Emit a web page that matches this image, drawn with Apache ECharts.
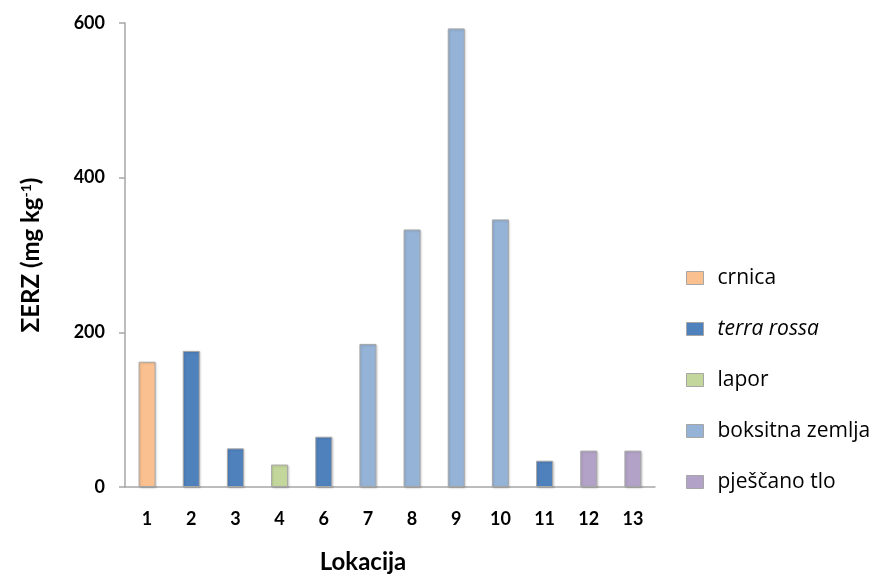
<!DOCTYPE html>
<html><head><meta charset="utf-8">
<script src="https://cdn.jsdelivr.net/npm/echarts@6/dist/echarts.min.js"></script>
<style>html,body{margin:0;padding:0;background:#fff}#c{width:880px;height:579px}</style>
</head><body><div id="c"></div>
<script>
const categories = ['1','2','3','4','6','7','8','9','10','11','12','13'];
const values = [162, 176, 50, 29, 65, 185, 333, 593, 346, 34, 47, 47];
const soilType = ['crnica','terra rossa','terra rossa','lapor','terra rossa','boksitna zemlja','boksitna zemlja','boksitna zemlja','boksitna zemlja','terra rossa','pješčano tlo','pješčano tlo'];
const seriesNames = ['crnica','terra rossa','lapor','boksitna zemlja','pješčano tlo'];
const seriesColors = ['#FAC090','#4F81BD','#C3D69B','#95B3D7','#B3A2C7'];
const yTicks = [0, 200, 400, 600];

const FONT = 'Lato, "Open Sans", sans-serif';
const LFONT = '"Open Sans", Lato, sans-serif';
const series = seriesNames.map((name, i) => ({
  name, type: 'bar', stack: 'all', barWidth: 17,
  data: values.map((v, j) => soilType[j] === name ? v : null),
  itemStyle: { color: seriesColors[i], borderColor: '#a6a6a6', borderWidth: 1,
    shadowColor: 'rgba(0,0,0,0.15)', shadowBlur: 2, shadowOffsetX: 1, shadowOffsetY: 1 }
}));

const chart = echarts.init(document.getElementById('c'));
chart.setOption({
  animation: false,
  backgroundColor: '#fff',
  grid: { left: 125, right: 225, top: 23, bottom: 91, containLabel: false },
  legend: {
    orient: 'vertical', left: 681, top: 262, itemGap: 29, itemWidth: 17, itemHeight: 13,
    icon: 'rect',
    data: seriesNames,
    itemStyle: { borderColor: '#a6a6a6', borderWidth: 1 },
    textStyle: { fontFamily: LFONT, fontSize: 21, lineHeight: 22, color: '#000', padding: [0,0,0,9],
      rich: { it: { fontStyle: 'italic', fontFamily: LFONT, fontSize: 21, lineHeight: 22, color: '#000' } } },
    formatter: n => n === 'terra rossa' ? '{it|' + n + '}' : n
  },
  xAxis: {
    type: 'category', data: categories,
    name: 'Lokacija', nameLocation: 'middle', nameGap: 63,
    nameTextStyle: { fontFamily: FONT, fontSize: 24, fontWeight: 'bold', color: '#000', padding: [0, 54, 0, 0] },
    axisLine: { lineStyle: { color: '#a6a6a6', width: 1.5 } },
    axisTick: { show: false },
    axisLabel: { margin: 23, fontFamily: FONT, fontSize: 18, fontWeight: 'bold', color: '#000' }
  },
  yAxis: {
    type: 'value', min: yTicks[0], max: yTicks[yTicks.length - 1], interval: 200,
    name: '{a|ΣERZ (mg kg}{s|-1}{a|)}', nameLocation: 'middle', nameGap: 82, nameRotate: 90,
    nameTextStyle: { rich: {
      a: { fontFamily: FONT, fontSize: 24, fontWeight: 'bold', color: '#000' },
      s: { fontFamily: FONT, fontSize: 14, fontWeight: 'bold', color: '#000', verticalAlign: 'top', padding: [0,0,10,0] }
    } },
    axisLine: { show: true, lineStyle: { color: '#a6a6a6', width: 1.5 } },
    axisTick: { show: true, length: 6, lineStyle: { color: '#a6a6a6', width: 1.5 } },
    splitLine: { show: false },
    axisLabel: { margin: 20, fontFamily: FONT, fontSize: 18, fontWeight: 'bold', color: '#000' }
  },
  series
});
</script></body></html>
